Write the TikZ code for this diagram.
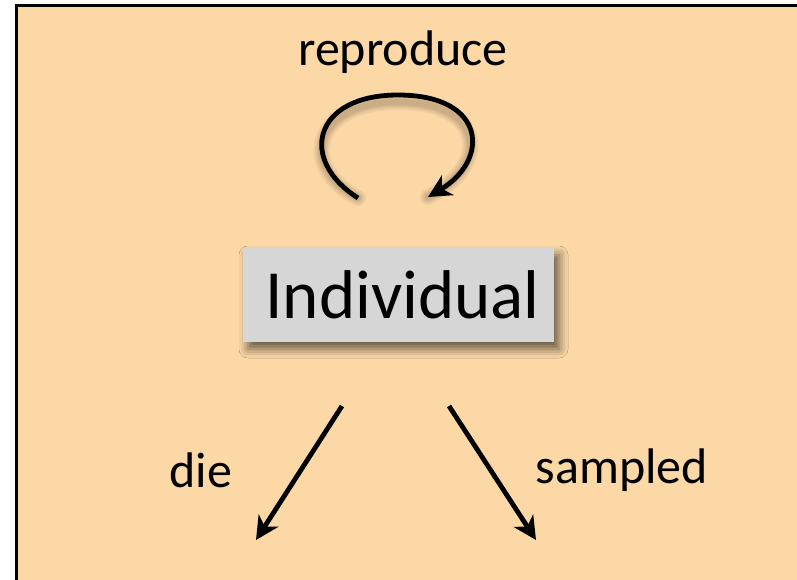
\documentclass[tikz,border=0pt]{standalone}
\usepackage{fontspec}
\setmainfont{Carlito}
\usetikzlibrary{arrows.meta,shadows.blur}
\definecolor{peach}{RGB}{252,216,167}
\definecolor{boxgray}{RGB}{214,214,214}
\tikzset{
  flow/.style={line width=4.8pt, -{Stealth[length=23pt,width=23pt,inset=7pt]}},
  flowshade/.style={line width=#1, draw=black, opacity=0.05, line cap=round},
  lbl/.style={font=\fontsize{50}{56}\selectfont, inner sep=0pt},
  card/.style={fill=boxgray, minimum width=311pt, minimum height=94pt, inner sep=0pt,
    blur shadow={shadow xshift=5pt, shadow yshift=-7pt, shadow blur radius=9pt, shadow opacity=60},
    font=\fontsize{69}{76}\selectfont}
}
\begin{document}
\begin{tikzpicture}[x=1pt,y=-1pt]
\useasboundingbox (0,0) rectangle (797,579);
% page frame, open to the right and bottom
\fill[peach] (16.5,5.5) rectangle (820,600);
\draw[line width=3pt] (16.5,600) -- (16.5,5.5) -- (820,5.5);

% central node
\node[card] (ind) at (398.5,295) {\hspace*{8pt}Individual};

% labels
\node[lbl] (rep) at (403,52) {reproduce};
\node[lbl] (die) at (201,470) {die};
\node[lbl] (smp) at (622,470) {sampled};

% anchor points of the connectors
\coordinate (loopA) at (358,198);
\coordinate (loopB) at (428,197);
\coordinate (dieA) at (342,406);
\coordinate (dieB) at (256,540);
\coordinate (smpA) at (449,406);
\coordinate (smpB) at (536,540);

% soft shadow under the self loop
\begin{scope}[yshift=-7pt]
\foreach \w in {16pt,12pt,9pt,6pt}
  \draw[flowshade=\w] (loopA) .. controls (298,160) and (313,95) .. (398,95)
     .. controls (487,95) and (490,160) .. (loopB);
\end{scope}

% connectors
\draw[flow] (loopA) .. controls (298,160) and (313,95) .. (398,95)
     .. controls (487,95) and (490,160) .. (loopB);
\draw[flow] (dieA) -- (dieB);
\draw[flow] (smpA) -- (smpB);
\end{tikzpicture}
\end{document}
